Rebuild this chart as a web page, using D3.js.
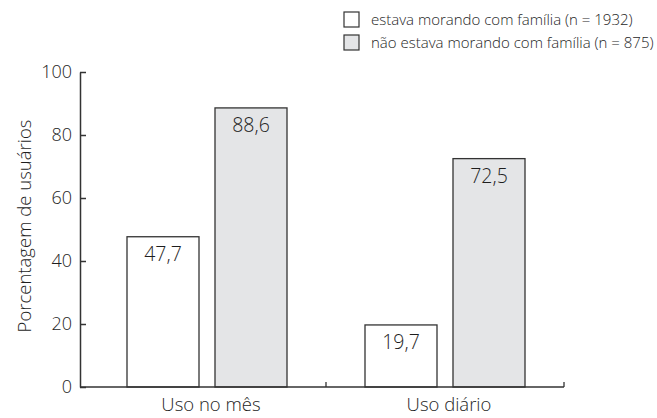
<!DOCTYPE html>
<html>
<head>
<meta charset="utf-8">
<script src="https://cdn.jsdelivr.net/npm/d3@7"></script>
<style>
  body { margin: 0; background: #fff; }
  text { font-family: "Open Sans", "DejaVu Sans", sans-serif; font-weight: 300; fill: #1e1e1e; }
</style>
</head>
<body>
<script>
// grouped bars, two groups of users

var categories = ["Uso no mês", "Uso diário"];
var seriesNames = ["estava morando com família (n = 1932)", "não estava morando com família (n = 875)"];
var withFamily = [47.7, 19.7];
var withoutFamily = [88.6, 72.5];
var yTicks = [0, 20, 40, 60, 80, 100];
var yTitle = "Porcentagem de usuários";

var width = 657, height = 418;
var fills = ["#ffffff", "#e4e5e7"];

var svg = d3.select("body").append("svg")
    .attr("width", width)
    .attr("height", height);

var x = d3.scaleBand()
    .domain(categories)
    .range([88, 564]);

// bars 72 wide, 16 apart
var x1 = d3.scaleBand()
    .domain([0, 1])
    .range([39, 199])
    .paddingInner(16 / 88);

var y = d3.scaleLinear()
    .domain([0, 100])
    .range([387, 72]);

// y axis, ticks point inward
var yAxis = svg.append("g")
    .attr("transform", "translate(80,0)")
    .call(d3.axisLeft(y).tickValues(yTicks).tickSizeInner(-6).tickSizeOuter(0).tickPadding(8));
yAxis.select(".domain").attr("stroke", "#333").attr("stroke-width", 1.5);
yAxis.selectAll(".tick line").attr("stroke", "#333").attr("stroke-width", 1.5);
yAxis.selectAll("text")
    .attr("font-size", 18)
    .attr("font-family", null)
    .attr("fill", null);

svg.append("text")
    .attr("transform", "translate(31,226) rotate(-90)")
    .attr("text-anchor", "middle")
    .attr("font-size", 18.5)
    .text(yTitle);

var rows = categories.map(function(c, i) {
  return {cat: c, values: [withFamily[i], withoutFamily[i]]};
});

var group = svg.selectAll(".grp")
  .data(rows)
  .enter().append("g")
  .attr("class", "grp")
  .attr("transform", function(d) { return "translate(" + x(d.cat) + ",0)"; });

var bar = group.selectAll("g")
  .data(function(d) { return d.values; })
  .enter().append("g");

bar.append("rect")
    .attr("x", function(d, i) { return x1(i); })
    .attr("y", function(d) { return y(d); })
    .attr("width", x1.bandwidth())
    .attr("height", function(d) { return y(0) - y(d); })
    .attr("fill", function(d, i) { return fills[i]; })
    .attr("stroke", "#333")
    .attr("stroke-width", 1.3);

bar.append("text")
    .attr("x", function(d, i) { return x1(i) + x1.bandwidth() / 2; })
    .attr("y", function(d) { return y(d) + 24; })
    .attr("text-anchor", "middle")
    .attr("font-size", 19.5)
    .text(function(d) { return d3.format(".1f")(d).replace(".", ","); });

// x axis: line from y axis, ticks upward at band edges
svg.append("line")
    .attr("x1", 80).attr("x2", x.range()[1])
    .attr("y1", y(0)).attr("y2", y(0))
    .attr("stroke", "#333").attr("stroke-width", 1.5);

svg.selectAll(".xtick")
  .data(categories)
  .enter().append("line")
    .attr("class", "xtick")
    .attr("x1", function(d) { return x(d) + x.bandwidth(); })
    .attr("x2", function(d) { return x(d) + x.bandwidth(); })
    .attr("y1", y(0)).attr("y2", y(0) - 5)
    .attr("stroke", "#333").attr("stroke-width", 1.3);

svg.selectAll(".xlabel")
  .data(categories)
  .enter().append("text")
    .attr("class", "xlabel")
    .attr("x", function(d) { return x(d) + x.bandwidth() / 2 + 4; })
    .attr("y", 411)
    .attr("text-anchor", "middle")
    .attr("font-size", 18.5)
    .text(function(d) { return d; });

// legend
var legend = svg.selectAll(".legend")
  .data(seriesNames)
  .enter().append("g")
  .attr("class", "legend")
  .attr("transform", function(d, i) { return "translate(344," + (12 + i * 23) + ")"; });

legend.append("rect")
    .attr("width", 15)
    .attr("height", 15)
    .attr("fill", function(d, i) { return fills[i]; })
    .attr("stroke", "#333")
    .attr("stroke-width", 1.2);

legend.append("text")
    .attr("x", 27)
    .attr("y", 13)
    .attr("font-size", 15)
    .text(function(d) { return d; });
</script>
</body>
</html>
